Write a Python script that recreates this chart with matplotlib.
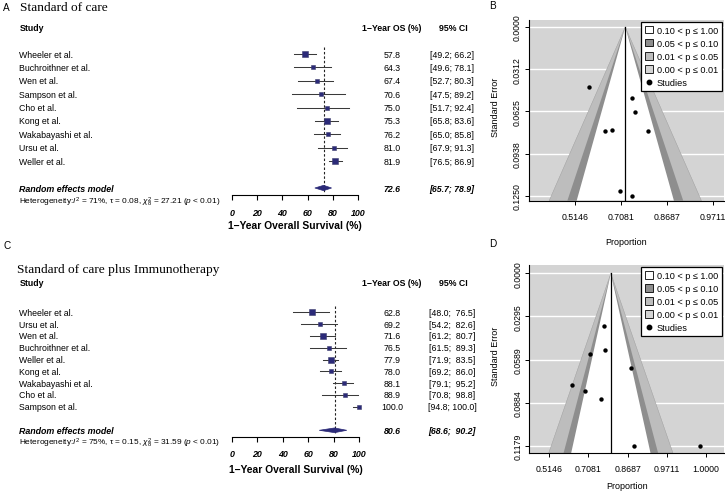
import numpy as np
import matplotlib
matplotlib.use('Agg')
import matplotlib.pyplot as plt
from matplotlib import transforms
from matplotlib.patches import Polygon, Patch
from matplotlib.lines import Line2D

plt.rcParams['font.family'] = ['Liberation Sans', 'DejaVu Sans']
plt.rcParams['mathtext.fontset'] = 'custom'
plt.rcParams['mathtext.rm'] = 'Liberation Sans'
plt.rcParams['mathtext.it'] = 'Liberation Sans:italic'
plt.rcParams['mathtext.bf'] = 'Liberation Sans:bold'

# ---------------- data: Standard of care (A, B) ----------------
studies_A = ["Wheeler et al.", "Buchroithner et al.", "Wen et al.", "Sampson et al.",
             "Cho et al.", "Kong et al.", "Wakabayashi et al.", "Ursu et al.", "Weller et al."]
os_A = [57.8, 64.3, 67.4, 70.6, 75.0, 75.3, 76.2, 81.0, 81.9]
lo_A = [49.2, 49.6, 52.7, 47.5, 51.7, 65.8, 65.0, 67.9, 76.5]
hi_A = [66.2, 78.1, 80.3, 89.2, 92.4, 83.6, 85.8, 91.3, 86.9]
weight_A = [17.6, 12.2, 9.5, 5.7, 5.7, 15.9, 10.8, 9.5, 13.2]
se_A = [0.0442, 0.0767, 0.0760, 0.1213, 0.1250, 0.0527, 0.0627, 0.0767, 0.0340]
re_A = [72.6, 65.7, 78.9]
het_A = r"Heterogeneity:$I^2$ = 71%, τ = 0.08, $\chi^2_8$ = 27.21 ($p$ < 0.01)"

# ---------------- data: Standard of care plus Immunotherapy (C, D) ----------------
studies_C = ["Wheeler et al.", "Ursu et al.", "Wen et al.", "Buchroithner et al.",
             "Weller et al.", "Kong et al.", "Wakabayashi et al.", "Cho et al.", "Sampson et al."]
os_C = [62.8, 69.2, 71.6, 76.5, 77.9, 78.0, 88.1, 88.9, 100.0]
lo_C = [48.0, 54.2, 61.2, 61.5, 71.9, 69.2, 79.1, 70.8, 94.8]
hi_C = [76.5, 82.6, 80.7, 89.3, 83.5, 86.0, 95.2, 98.8, 100.0]
weight_C = [12.7, 9.9, 12.7, 10.8, 12.7, 11.7, 11.2, 8.9, 9.4]
se_C = [0.0762, 0.0801, 0.0553, 0.0858, 0.0358, 0.0524, 0.0648, 0.117851, 0.117851]
re_C = [80.6, 68.6, 90.2]
het_C = r"Heterogeneity:$I^2$ = 75%, τ = 0.15, $\chi^2_8$ = 31.59 ($p$ < 0.01)"

x_ticks_forest = [0, 20, 40, 60, 80, 100]
funnel_ticks = [0.8, 1.0, 1.2, 1.4, 1.6]
legend_labels = ["0.10 < p ≤ 1.00", "0.05 < p ≤ 0.10", "0.01 < p ≤ 0.05", "0.00 < p ≤ 0.01", "Studies"]

NAVY = '#2b2a78'
W, H = 725, 502
fig = plt.figure(figsize=(7.25, 5.02), dpi=100)


def add_ax(l, t, r, b):
    return fig.add_axes([l / W, 1 - b / H, (r - l) / W, (b - t) / H])


def ftext(x, y, s, **kw):
    fig.text(x / W, 1 - y / H, s, **kw)


def fmt_ci(lo, hi):
    wl = max(len(f"{v:.1f}") for v in lo)
    wh = max(len(f"{v:.1f}") for v in hi)
    return [f"[{a:>{wl}.1f}; {b:>{wh}.1f}]" for a, b in zip(lo, hi)], wl, wh


def forest(names, est, lo, hi, wts, re, het, top_px, bot_px, x0_px, x1_px,
           row0_px, rowh, hdr_row, xlabel_y):
    ax = add_ax(x0_px, top_px, x1_px, bot_px)
    r_top = (top_px - row0_px) / rowh
    r_bot = (bot_px - row0_px) / rowh
    ax.set_xlim(0, 100)
    ax.set_ylim(r_bot, r_top)
    ax.patch.set_alpha(0)
    n = len(names)
    rows = np.arange(n)
    re_row = n + 1
    het_row = n + 2
    tr = transforms.blended_transform_factory(fig.transFigure, ax.transData)
    fs = 6.3
    for r, e, a, b, w in zip(rows, est, lo, hi, wts):
        ax.plot([a, b], [r, r], color='#3a3a3a', lw=0.75, zorder=2, clip_on=False)
        side = 1.42 * np.sqrt(w) / 1.389
        ax.plot([e], [r], marker='s', ms=side, color=NAVY, mec='#3f3f6f', mew=0.4,
                zorder=3, clip_on=False)
    ax.plot([re[0], re[0]], [-0.5, re_row + 0.3], color='#222222', lw=0.8,
            ls=(0, (2.2, 1.8)), zorder=1)
    h = 0.2
    d = Polygon([(re[1], re_row), (re[0], re_row - h), (re[2], re_row), (re[0], re_row + h)],
                closed=True, fc=NAVY, ec=NAVY, lw=0.5, zorder=4)
    ax.add_patch(d)
    for s in ['top', 'left', 'right']:
        ax.spines[s].set_visible(False)
    ax.spines['bottom'].set_position(('data', n + 1.55))
    ax.spines['bottom'].set_bounds(0, 100)
    ax.spines['bottom'].set_linewidth(0.8)
    ax.set_yticks([])
    ax.set_xticks(x_ticks_forest)
    ax.set_xticklabels([str(t) for t in x_ticks_forest], fontsize=6.4,
                       fontweight='bold', fontstyle='italic')
    ax.tick_params(axis='x', direction='out', length=3.6, width=0.8, pad=5.5)
    ax.text(19.3 / W, hdr_row, "Study", transform=tr, fontsize=fs, fontweight='bold',
            va='center', ha='left')
    ax.text(392 / W, hdr_row, "1−Year OS (%)", transform=tr, fontsize=fs, fontweight='bold',
            va='center', ha='center')
    ax.text(453 / W, hdr_row, "95% CI", transform=tr, fontsize=fs, fontweight='bold',
            va='center', ha='center')
    cis, wl, wh = fmt_ci(lo, hi)
    for r, nm, e, c in zip(rows, names, est, cis):
        ax.text(19.3 / W, r, nm, transform=tr, fontsize=fs, va='center', ha='left')
        ax.text(392 / W, r, f"{e:.1f}", transform=tr, fontsize=fs, va='center', ha='center')
        ax.text(452 / W, r, c, transform=tr, fontsize=fs, va='center', ha='center')
    ax.text(19.3 / W, re_row, "Random effects model", transform=tr, fontsize=6.4,
            fontweight='bold', fontstyle='italic', va='center', ha='left')
    ax.text(392 / W, re_row, f"{re[0]:.1f}", transform=tr, fontsize=fs,
            fontweight='bold', fontstyle='italic', va='center', ha='center')
    ax.text(452 / W, re_row, f"[{re[1]:>{wl}.1f}; {re[2]:>{wh}.1f}]", transform=tr, fontsize=fs,
            fontweight='bold', fontstyle='italic', va='center', ha='center')
    ax.text(19.3 / W, het_row, het, transform=tr, fontsize=5.95, va='center', ha='left')
    ftext((x0_px + x1_px) / 2, xlabel_y, "1−Year Overall Survival (%)", fontsize=7.4,
          fontweight='bold', ha='center', va='center')
    return ax


def funnel(props, ses, pooled, l, t, r, b, xlim, ylim, xlabel_y):
    ax = add_ax(l, t, r, b)
    tx = np.arcsin(np.sqrt(np.array(props) / 100.0))
    c = np.arcsin(np.sqrt(pooled / 100.0))
    ax.set_facecolor('#d4d4d4')
    ax.set_xlim(*xlim)
    ax.set_ylim(*ylim)
    se_max = max(ses)
    yt = np.linspace(0, se_max, 5)
    ax.set_yticks(yt)
    ax.set_yticklabels([f"{v:.4f}" for v in yt], rotation=90, va='center', fontsize=6.3)
    ticks = [v for v in funnel_ticks if xlim[0] <= v <= xlim[1]]
    ax.set_xticks(ticks)
    ax.set_xticklabels([f"{(np.sin(v) ** 2 if v < np.pi / 2 else 1.0):.4f}" for v in ticks],
                       fontsize=6.3)
    for y in yt:
        ax.axhline(y, color='white', lw=1.0, zorder=0.5)
    sb = ylim[0]
    for z, col in [(2.576, '#bdbdbd'), (1.96, '#8e8e8e'), (1.645, 'white')]:
        p = Polygon([(c, 0), (c - z * sb, sb), (c + z * sb, sb)], closed=True,
                    fc=col, ec='#9a9a9a' if z > 2.5 else 'none', lw=0.3, zorder=1)
        ax.add_patch(p)
    ax.plot([c, c], [0, sb], color='black', lw=0.9, zorder=2)
    ax.scatter(tx, ses, s=10, color='black', zorder=3, linewidths=0)
    for s in ['top', 'right']:
        ax.spines[s].set_visible(False)
    for s in ['left', 'bottom']:
        ax.spines[s].set_linewidth(0.8)
    ax.tick_params(direction='out', length=3, width=0.7, pad=2)
    ax.tick_params(axis='x', pad=5)
    handles = [Patch(fc='white', ec='black', lw=0.6),
               Patch(fc='#8e8e8e', ec='black', lw=0.6),
               Patch(fc='#bdbdbd', ec='black', lw=0.6),
               Patch(fc='#d4d4d4', ec='black', lw=0.6),
               Line2D([], [], marker='o', ls='none', color='black', ms=3.2)]
    leg = ax.legend(handles, legend_labels, loc='upper right', fontsize=6.6, frameon=True,
                    fancybox=False, framealpha=1, edgecolor='black', borderaxespad=0.25,
                    handlelength=0.9, handleheight=0.9, handletextpad=0.4,
                    labelspacing=0.45, borderpad=0.4)
    leg.get_frame().set_linewidth(0.9)
    leg.set_zorder(10)
    ftext(495, (t + b) / 2 - 4, "Standard Error", rotation=90, fontsize=6.5,
          ha='center', va='center')
    ftext((l + r) / 2, xlabel_y, "Proportion", fontsize=6.5, ha='center', va='center')
    return ax


# ---------------- panels ----------------
ftext(3, 8, "A", fontsize=7.2, ha='left', va='center')
ftext(20, 8, "Standard of care", fontsize=9.6, family='Liberation Serif', ha='left', va='center')
ftext(3, 246, "C", fontsize=7.2, ha='left', va='center')
ftext(16.7, 270, "Standard of care plus Immunotherapy", fontsize=9.6, family='Liberation Serif',
      ha='left', va='center')
ftext(489, 6, "B", fontsize=7.2, ha='left', va='center')
ftext(489, 244, "D", fontsize=7.2, ha='left', va='center')

forest(studies_A, os_A, lo_A, hi_A, weight_A, re_A, het_A,
       top_px=21.5, bot_px=229.2, x0_px=231.7, x1_px=358.3,
       row0_px=55.0, rowh=13.4, hdr_row=-1.95, xlabel_y=226)
forest(studies_C, os_C, lo_C, hi_C, weight_C, re_C, het_C,
       top_px=278.0, bot_px=478.5, x0_px=231.7, x1_px=359.3,
       row0_px=313.3, rowh=11.8, hdr_row=-2.55, xlabel_y=470)

funnel(os_A, se_A, re_A[0], 529, 20.7, 724, 201.7, (0.6013, 1.449), (0.1285, -0.0054), 242.7)
funnel(os_C, se_C, re_C[0], 529.3, 266, 724, 454, (0.6997, 1.6906), (0.1227, -0.0057), 487)

fig.savefig('out.png', dpi=100)
